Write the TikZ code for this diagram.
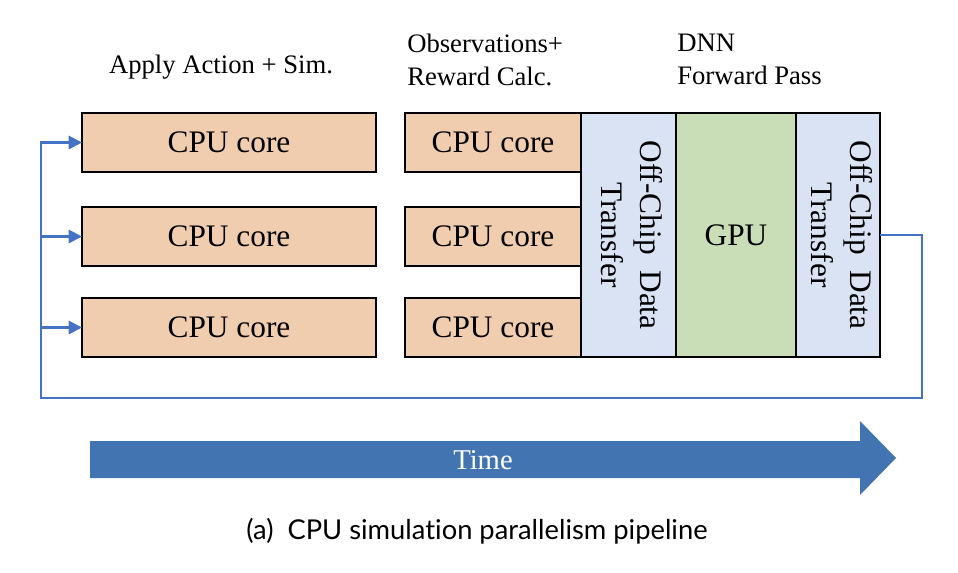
\documentclass[tikz,border=0pt]{standalone}
\usepackage{fontspec}
\setmainfont{Liberation Serif}
\newfontfamily\capfont[Ligatures=NoCommon]{Lato}
\usetikzlibrary{
  positioning,
  arrows.meta
}
\definecolor{corefill}{HTML}{F1CDB0}
\definecolor{xferfill}{HTML}{DAE3F3}
\definecolor{gpufill}{HTML}{C9DDB6}
\definecolor{loopblue}{HTML}{4472C4}
\definecolor{timeblue}{HTML}{4274B1}

\tikzset{
  block/.style = {draw, line width=1.4pt, inner sep=0pt, outer sep=0pt,
    font=\fontsize{23.5}{27}\selectfont},
  core/.style = {block, fill=corefill, minimum height=44.25pt},
  xfer/.style = {block, fill=xferfill, minimum height=183pt, align=center},
  stage/.style = {font=\fontsize{20}{24.75}\selectfont, align=left, inner sep=0pt},
  feedback/.style = {draw=loopblue, line width=1.6pt,
    -{Triangle[length=10pt,width=10pt]}}
}

\begin{document}
\begin{tikzpicture}[x=0.75pt, y=-0.75pt]
\useasboundingbox (0,0) rectangle (958,572);

% stage labels
\node[stage] (simlbl) at (221,67) {Apply Action + Sim.};
\node[stage, anchor=west] (obslbl) at (407,60) {Observations+\\Reward Calc.};
\node[stage, anchor=west] (dnnlbl) at (677,59) {DNN\\Forward Pass};

% cpu cores
\node[core, minimum width=220.5pt] (simA) at (229,142.5) {CPU core};
\node[core, minimum width=220.5pt] (simB) at (229,236.5) {CPU core};
\node[core, minimum width=220.5pt] (simC) at (229,327.5) {CPU core};

\node[core, minimum width=132pt] (obsA) at (493,142.5) {CPU core};
\node[core, minimum width=132pt] (obsB) at (493,236.5) {CPU core};
\node[core, minimum width=132pt] (obsC) at (493,327.5) {CPU core};

% transfers and gpu
\node[xfer, minimum width=71.25pt, anchor=west] (xferin) at (581,235)
  {\rotatebox{-90}{\begin{tabular}{c}Off-Chip\ \ Data\\[2pt]Transfer\end{tabular}}};
\node[block, fill=gpufill, minimum width=90pt, minimum height=183pt,
  right=0pt of xferin] (gpu) {GPU};
\node[xfer, minimum width=63pt, right=0pt of gpu] (xferout)
  {\rotatebox{-90}{\begin{tabular}{c}Off-Chip\ \ Data\\[2pt]Transfer\end{tabular}}};

% loop back to the cores
\coordinate (turn) at (922,398);
\coordinate (back) at (41,398);
\draw[feedback] (xferout.east) -| (turn) -- (back) |- (simA.west);
\draw[feedback] (back |- simB.west) -- (simB.west);
\draw[feedback] (back |- simC.west) -- (simC.west);

% time arrow
\fill[timeblue] (90,441) -- (860,441) -- (860,421) -- (896,458)
  -- (860,495) -- (860,478) -- (90,478) -- cycle;
\node[text=white, font=\fontsize{21.5}{25}\selectfont] (time) at (483,460) {Time};

\node[font=\capfont\fontsize{20.5}{24}\selectfont] (caption) at (477,531)
  {(a)\ \ CPU simulation parallelism pipeline};

\end{tikzpicture}
\end{document}
